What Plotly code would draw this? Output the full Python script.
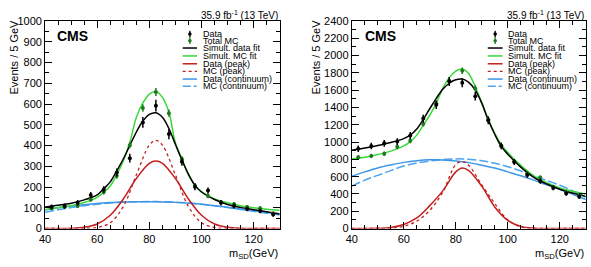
import plotly.graph_objects as go

W, H = 591, 267
FONT = "Liberation Sans, Arial, Helvetica, sans-serif"

# ---------------- data ----------------
bin_x = [42.5, 47.5, 52.5, 57.5, 62.5, 67.5, 72.5, 77.5, 82.5, 87.5,
         92.5, 97.5, 102.5, 107.5, 112.5, 117.5, 122.5, 127.5]

# left panel
L_data = [104, 108, 124, 161, 188, 270, 339, 511, 592, 455, 322, 201, 183, 124, 108, 94, 84, 67]
L_data_err = [12, 12, 13, 15, 16, 19, 21, 26, 28, 25, 20, 16, 15, 13, 12, 11, 11, 10]
L_mc = [98, 104, 109, 140, 176, 254, 401, 581, 658, 556, 334, 206, 157, 127, 118, 104, 98, 73]
L_mc_err = [9, 9, 10, 11, 12, 14, 16, 18, 19, 17, 14, 12, 11, 10, 10, 9, 9, 8]

# right panel
R_data = [922, 955, 985, 1005, 1075, 1272, 1430, 1700, 1685, 1530, 1250, 955, 770, 618, 549, 470, 405, 368]
R_data_err = [38, 38, 39, 40, 41, 45, 47, 52, 52, 49, 45, 39, 35, 32, 30, 28, 26, 25]
R_mc = [825, 840, 865, 945, 1015, 1210, 1450, 1710, 1825, 1620, 1265, 960, 776, 635, 590, 482, 420, 385]
R_mc_err = [25, 25, 26, 27, 28, 31, 34, 37, 38, 36, 31, 28, 25, 23, 22, 20, 19, 18]

# fit curves
fit_x = [40, 45, 50, 55, 60, 62.5, 65, 67.5, 70, 72.5, 75, 77.5, 80, 82.5, 85,
         87.5, 90, 92.5, 95, 97.5, 100, 105, 110, 115, 120, 125, 130]
L_fit_data = [104, 112, 122, 138, 162, 192, 225, 278, 335, 400, 465, 518, 550, 558, 536,
              482, 405, 330, 262, 208, 176, 140, 116, 102, 91, 81, 70]
L_fit_mc = [91, 100, 110, 125, 150, 175, 205, 259, 325, 415, 535, 605, 648, 660, 632,
            560, 412, 336, 258, 208, 178, 143, 124, 110, 100, 93, 88]
R_fit_data = [905, 930, 960, 995, 1040, 1080, 1150, 1262, 1385, 1505, 1610, 1680, 1720, 1728, 1690,
              1600, 1450, 1255, 1090, 950, 860, 710, 592, 515, 455, 410, 372]
R_fit_mc = [805, 825, 855, 895, 955, 1005, 1080, 1195, 1310, 1450, 1620, 1745, 1820, 1845, 1790,
            1640, 1455, 1262, 1100, 970, 880, 730, 610, 530, 470, 432, 398]

comp_x = [40, 45, 50, 55, 60, 65, 70, 75, 80, 82.5, 85, 90, 95, 100, 105, 110, 115, 120, 125, 130]
L_peak_data = [0, 0, 1, 6, 22, 64, 142, 241, 314, 325, 314, 241, 142, 64, 22, 6, 1, 0, 0, 0]
L_peak_mc = [0, 0, 0, 1, 5, 28, 106, 258, 402, 425, 402, 258, 106, 28, 5, 1, 0, 0, 0, 0]
L_cont_data = [90, 100, 108, 115, 121, 125, 128, 129, 129, 129, 128, 126, 122, 117, 110, 102, 94, 86, 78, 70]
L_cont_mc = [78, 90, 101, 110, 117, 123, 127, 129, 130, 130, 129, 127, 123, 117, 110, 101, 92, 83, 74, 65]
R_peak_data = [0, 1, 3, 13, 47, 122, 265, 435, 655, 700, 670, 490, 250, 95, 25, 4, 1, 0, 0, 0]
R_peak_mc = [0, 0, 1, 5, 25, 85, 210, 420, 740, 775, 730, 505, 290, 100, 18, 2, 0, 0, 0, 0]
R_cont_data = [605, 655, 700, 735, 765, 785, 795, 793, 782, 772, 762, 732, 700, 655, 610, 560, 505, 455, 395, 335]
R_cont_mc = [490, 560, 615, 670, 722, 757, 780, 797, 805, 805, 800, 785, 755, 715, 665, 610, 555, 500, 435, 360]

x_ticks = [40, 60, 80, 100, 120]
L_y_ticks = [0, 100, 200, 300, 400, 500, 600, 700, 800, 900, 1000]
R_y_ticks = [0, 200, 400, 600, 800, 1000, 1200, 1400, 1600, 1800, 2000, 2200, 2400]

legend_labels = ["Data", "Total MC", "Simult. data fit", "Simult. MC fit",
                 "Data (peak)", "MC (peak)", "Data (continuum)", "MC (continuum)"]

# ---------------- styles ----------------
C_BLACK = "#000000"
C_GREEN = "#3ad83a"
C_MCPT = "#1f7a1f"
C_RED = "#c41f1f"
C_BLUE = "#3d96e6"
C_BLUE2 = "#4da3f0"
DASH_BLUE = "9px,3px"
LW = 1.5

fig = go.Figure()


def add_panel(xa, ya, data, derr, mc, merr, fd, fm, pd, pm, cd, cm):
    common = dict(xaxis=xa, yaxis=ya, showlegend=False, hoverinfo="skip")
    fig.add_trace(go.Scatter(x=comp_x, y=cm, mode="lines", line=dict(color=C_BLUE2, width=LW, dash=DASH_BLUE, shape="spline"), **common))
    fig.add_trace(go.Scatter(x=comp_x, y=cd, mode="lines", line=dict(color=C_BLUE, width=LW, shape="spline"), **common))
    fig.add_trace(go.Scatter(x=comp_x, y=pm, mode="lines", line=dict(color=C_RED, width=1.3, dash="dot", shape="spline"), **common))
    fig.add_trace(go.Scatter(x=comp_x, y=pd, mode="lines", line=dict(color=C_RED, width=LW, shape="spline"), **common))
    fig.add_trace(go.Scatter(x=fit_x, y=fm, mode="lines", line=dict(color=C_GREEN, width=LW, shape="spline"), **common))
    fig.add_trace(go.Scatter(x=fit_x, y=fd, mode="lines", line=dict(color=C_BLACK, width=LW, shape="spline"), **common))
    fig.add_trace(go.Scatter(x=bin_x, y=mc, mode="markers",
                             marker=dict(color=C_MCPT, size=4),
                             error_y=dict(type="data", array=merr, color=C_MCPT, thickness=1.5, width=0), **common))
    fig.add_trace(go.Scatter(x=bin_x, y=data, mode="markers",
                             marker=dict(color=C_BLACK, size=4),
                             error_y=dict(type="data", array=derr, color=C_BLACK, thickness=1.5, width=0), **common))


add_panel("x", "y", L_data, L_data_err, L_mc, L_mc_err, L_fit_data, L_fit_mc,
          L_peak_data, L_peak_mc, L_cont_data, L_cont_mc)
add_panel("x2", "y2", R_data, R_data_err, R_mc, R_mc_err, R_fit_data, R_fit_mc,
          R_peak_data, R_peak_mc, R_cont_data, R_cont_mc)

tickfont = dict(family=FONT, size=11, color="black")
y_dom = [1 - 233 / H, 1 - 15.7 / H]


def xaxis(dom, anchor):
    return dict(domain=dom, anchor=anchor, range=[40, 130], tickvals=x_ticks,
                ticks="inside", ticklen=7, tickwidth=1, tickcolor="black",
                showline=True, linecolor="black", linewidth=1, mirror="allticks",
                showgrid=False, zeroline=False, tickfont=tickfont,
                minor=dict(dtick=5, tick0=40, ticks="inside", ticklen=4, tickcolor="black", showgrid=False))


def yaxis(rng, ticks, minor, anchor):
    return dict(domain=y_dom, anchor=anchor, range=rng, tickvals=ticks,
                ticks="inside", ticklen=7, tickwidth=1, tickcolor="black",
                showline=True, linecolor="black", linewidth=1, mirror="allticks",
                showgrid=False, zeroline=False, tickfont=tickfont,
                minor=dict(dtick=minor, tick0=0, ticks="inside", ticklen=4, tickcolor="black", showgrid=False))


fig.update_layout(
    width=W, height=H, autosize=False,
    margin=dict(l=0, r=0, t=0, b=0),
    paper_bgcolor="white", plot_bgcolor="white",
    font=dict(family=FONT, color="black"),
    xaxis=xaxis([39.5 / W, 276.5 / W], "y"),
    yaxis=yaxis([0, 1000], L_y_ticks, 50, "x"),
    xaxis2=xaxis([349.3 / W, 585.7 / W], "y2"),
    yaxis2=yaxis([0, 2400], R_y_ticks, 100, "x2"),
)

anns = []
shapes = []


def px(x):
    return x / W


def py(y):
    return 1 - y / H


def panel_text(x_left, x_right, ytitle_x, cms_x):
    anns.append(dict(x=px(x_right), y=py(9.5), xref="paper", yref="paper", xanchor="right", yanchor="middle",
                     text="35.9 fb<sup>-1</sup> (13 TeV)", showarrow=False, font=dict(family=FONT, size=10)))
    anns.append(dict(x=px(cms_x), y=py(31.5), xref="paper", yref="paper", xanchor="left", yanchor="middle",
                     text="<b>CMS</b>", showarrow=False, font=dict(family=FONT, size=14)))
    anns.append(dict(x=px(ytitle_x), y=py(53), xref="paper", yref="paper", xanchor="center", yanchor="middle",
                     text="Events / 5 GeV", textangle=-90, showarrow=False, font=dict(family=FONT, size=11)))
    anns.append(dict(x=px(x_right), y=py(259.5), xref="paper", yref="paper", xanchor="right", yanchor="middle",
                     text="m<sub>SD</sub>(GeV)", showarrow=False, font=dict(family=FONT, size=11)))


def legend(sym_l, sym_r, text_x):
    rows = [29.3, 36.3, 44.0, 52.3, 60.5, 68.5, 76.5, 84.0]
    mid = (sym_l + sym_r) / 2
    styles = [
        ("pt", C_BLACK), ("pt", C_MCPT),
        ("line", dict(color=C_BLACK, width=LW)),
        ("line", dict(color=C_GREEN, width=LW)),
        ("line", dict(color=C_RED, width=LW)),
        ("line", dict(color=C_RED, width=1.3, dash="dot")),
        ("line", dict(color=C_BLUE, width=LW)),
        ("line", dict(color=C_BLUE2, width=LW, dash="8px,3px,3px,3px")),
    ]
    for lab, yy, (kind, st) in zip(legend_labels, rows, styles):
        if kind == "pt":
            shapes.append(dict(type="line", xref="paper", yref="paper", x0=px(mid), x1=px(mid),
                               y0=py(yy - 3.5), y1=py(yy + 3.5), line=dict(color=st, width=1.3)))
            shapes.append(dict(type="circle", xref="paper", yref="paper", x0=px(mid - 1.8), x1=px(mid + 1.8),
                               y0=py(yy - 1.8), y1=py(yy + 1.8), fillcolor=st, line=dict(color=st, width=0)))
        else:
            shapes.append(dict(type="line", xref="paper", yref="paper", x0=px(sym_l), x1=px(sym_r),
                               y0=py(yy), y1=py(yy), line=st))
        anns.append(dict(x=px(text_x), y=py(yy), xref="paper", yref="paper", xanchor="left", yanchor="middle",
                         text=lab, showarrow=False, font=dict(family=FONT, size=9)))


panel_text(39.5, 276.5, 8, 50)
panel_text(349.3, 585.7, 313, 361)
legend(178.5, 193, 196.5)
legend(486.7, 501.7, 505)

fig.update_layout(annotations=anns, shapes=shapes)
fig.write_html("out.html")
